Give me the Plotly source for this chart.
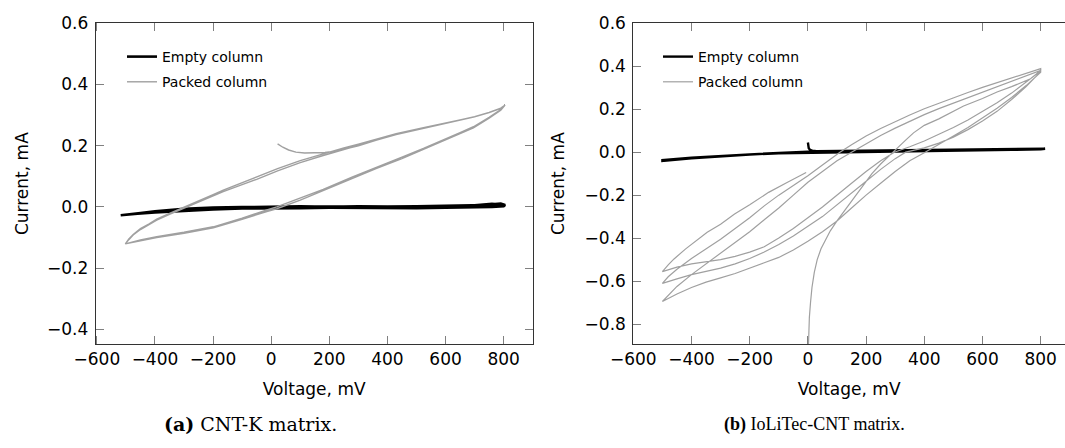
import plotly.graph_objects as go

# ---------------- data (a) CNT-K matrix ----------------
# Packed column: initial segment, then upper (increasing V) and lower (decreasing V) branches
a_start_v = [22, 40, 60, 85, 115, 150, 185, 220, 260]
a_start_i = [0.206, 0.195, 0.186, 0.179, 0.176, 0.176, 0.178, 0.182, 0.19]

a_up1_v = [300, 363, 430, 524, 600, 650, 700, 750, 790, 805]
a_up1_i = [0.2, 0.218, 0.236, 0.257, 0.272, 0.283, 0.294, 0.308, 0.322, 0.333]

a_dn1_v = [805, 790, 750, 696, 650, 600, 524, 450, 363, 280, 179, 100, 19, -15, -100, -199, -300, -394, -450, -502]
a_dn1_i = [0.333, 0.318, 0.293, 0.262, 0.243, 0.222, 0.191, 0.163, 0.131, 0.098, 0.057, 0.028, 0.0, -0.01, -0.037, -0.065, -0.083, -0.097, -0.108, -0.121]

a_up2_v = [-502, -490, -475, -450, -420, -394, -350, -302, -250, -200, -165, -100, -50, 22, 100, 179, 250, 300, 363, 430, 524, 600, 650, 700, 750, 790, 805]
a_up2_i = [-0.121, -0.105, -0.09, -0.071, -0.055, -0.04, -0.021, -0.002, 0.019, 0.04, 0.055, 0.079, 0.097, 0.125, 0.151, 0.174, 0.193, 0.205, 0.222, 0.239, 0.259, 0.273, 0.284, 0.295, 0.309, 0.323, 0.333]

a_dn2_v = [805, 790, 750, 696, 650, 600, 524, 450, 363, 280, 179, 100, 19, -15, -100, -199, -300, -394, -450, -502]
a_dn2_i = [0.333, 0.316, 0.29, 0.258, 0.239, 0.218, 0.186, 0.158, 0.126, 0.093, 0.052, 0.022, -0.006, -0.015, -0.041, -0.068, -0.086, -0.1, -0.111, -0.121]

a_up3_v = [-502, -490, -475, -450, -420, -394, -350, -302, -250, -200, -165, -100, -50, 22, 100, 179, 250, 300, 363, 430, 524, 600, 650, 700, 750, 790, 805]
a_up3_i = [-0.121, -0.107, -0.092, -0.074, -0.058, -0.043, -0.024, -0.005, 0.015, 0.035, 0.05, 0.073, 0.09, 0.118, 0.145, 0.168, 0.188, 0.2, 0.218, 0.236, 0.257, 0.272, 0.283, 0.294, 0.308, 0.322, 0.333]

# Empty column (a)
a_e_fwd_v = [-518, -480, -440, -400, -350, -300, -250, -200, -100, 0, 100, 200, 300, 400, 500, 600, 700, 740, 770, 790, 805]
a_e_fwd_i = [-0.027, -0.023, -0.019, -0.016, -0.012, -0.008, -0.005, -0.003, -0.001, 0.0, 0.001, 0.001, 0.0, 0.001, 0.002, 0.003, 0.004, 0.006, 0.009, 0.011, 0.006]
a_e_rev_v = [800, 760, 700, 600, 500, 400, 300, 200, 100, 0, -100, -200, -300, -400, -460, -518]
a_e_rev_i = [0.002, 0.0, -0.002, -0.003, -0.004, -0.003, -0.004, -0.003, -0.004, -0.004, -0.005, -0.008, -0.012, -0.018, -0.022, -0.027]
a_e_fwd2_v = [-518, -450, -400, -300, -200, -100, 0, 100, 200, 300, 400, 500, 600, 700, 760, 800]
a_e_fwd2_i = [-0.026, -0.02, -0.014, -0.006, -0.002, 0.0, 0.001, 0.002, 0.0, 0.002, 0.001, 0.0, 0.002, 0.005, 0.01, 0.004]

# ---------------- data (b) IoLiTec-CNT matrix ----------------
b_init_v = [0, 2, 5, 9, 14, 22, 32, 45, 60, 77, 100, 130, 160, 191, 220, 250, 280, 306, 335, 363, 400, 450, 535, 600, 650, 700, 765, 800]
b_init_i = [-0.98, -0.86, -0.77, -0.70, -0.63, -0.56, -0.50, -0.45, -0.41, -0.366, -0.32, -0.265, -0.205, -0.148, -0.1, -0.055, -0.015, 0.02, 0.055, 0.09, 0.125, 0.155, 0.215, 0.25, 0.28, 0.305, 0.342, 0.381]

b_l3_v = [800, 750, 700, 650, 600, 550, 500, 450, 403, 350, 300, 250, 200, 150, 100, 50, 0, -50, -100, -150, -200, -250, -300, -350, -400, -450, -500]
b_l3_i = [0.372, 0.31, 0.255, 0.205, 0.16, 0.115, 0.075, 0.035, 0.0, -0.04, -0.09, -0.145, -0.2, -0.26, -0.32, -0.37, -0.415, -0.455, -0.49, -0.515, -0.54, -0.565, -0.585, -0.605, -0.63, -0.66, -0.695]

b_u3_v = [-500, -480, -450, -400, -350, -300, -250, -200, -150, -100, -50, 0, 50, 100, 150, 200, 250, 300, 350, 400, 450, 500, 550, 600, 650, 700, 750, 800]
b_u3_i = [-0.695, -0.665, -0.625, -0.57, -0.52, -0.47, -0.42, -0.37, -0.315, -0.26, -0.2, -0.14, -0.09, -0.04, 0.0, 0.04, 0.078, 0.112, 0.145, 0.175, 0.203, 0.228, 0.253, 0.278, 0.303, 0.328, 0.354, 0.381]

b_l2_v = [800, 750, 700, 650, 600, 550, 500, 450, 400, 336, 300, 250, 200, 150, 100, 50, 0, -50, -100, -150, -200, -250, -300, -350, -400, -450, -500]
b_l2_i = [0.375, 0.305, 0.245, 0.19, 0.145, 0.105, 0.07, 0.042, 0.02, 0.0, -0.03, -0.08, -0.135, -0.19, -0.245, -0.3, -0.345, -0.39, -0.43, -0.465, -0.495, -0.52, -0.54, -0.555, -0.57, -0.59, -0.611]

b_u2_v = [-500, -480, -450, -400, -350, -300, -250, -200, -150, -100, -50, 0, 50, 110, 150, 200, 250, 300, 350, 400, 450, 500, 550, 600, 650, 700, 750, 800]
b_u2_i = [-0.611, -0.58, -0.545, -0.495, -0.45, -0.405, -0.355, -0.305, -0.25, -0.2, -0.155, -0.11, -0.06, 0.0, 0.035, 0.075, 0.11, 0.143, 0.173, 0.202, 0.228, 0.253, 0.278, 0.302, 0.323, 0.346, 0.368, 0.389]

b_l1_v = [800, 750, 700, 650, 600, 550, 500, 450, 400, 350, 297, 250, 200, 150, 100, 50, 0, -50, -100, -150, -200, -250, -300, -350, -400, -450, -500]
b_l1_i = [0.378, 0.325, 0.275, 0.23, 0.19, 0.15, 0.115, 0.082, 0.052, 0.025, 0.0, -0.04, -0.09, -0.145, -0.2, -0.255, -0.305, -0.355, -0.4, -0.44, -0.465, -0.485, -0.5, -0.51, -0.52, -0.535, -0.556]

b_u1_v = [-500, -480, -460, -420, -380, -346, -300, -252, -200, -135, -70, -6]
b_u1_i = [-0.556, -0.525, -0.497, -0.45, -0.41, -0.373, -0.335, -0.288, -0.245, -0.187, -0.14, -0.095]

# Empty column (b)
b_e_v = [0, 1, 3, 7, 15, 30, 100, 200, 300, 400, 500, 600, 700, 800, 815,
         800, 700, 600, 500, 400, 300, 200, 100, 0, -100, -200, -300, -400, -500,
         -500, -400, -300, -200, -100, 0, 100, 200, 400, 600, 800, 815]
b_e_i = [0.045, 0.03, 0.018, 0.011, 0.007, 0.005, 0.006, 0.007, 0.008, 0.009, 0.01, 0.012, 0.013, 0.015, 0.016,
         0.013, 0.011, 0.009, 0.007, 0.006, 0.004, 0.003, 0.002, 0.0, -0.005, -0.011, -0.019, -0.029, -0.041,
         -0.037, -0.026, -0.017, -0.01, -0.004, 0.002, 0.004, 0.005, 0.007, 0.01, 0.014, 0.015]

series_names = ["Empty column", "Packed column"]
caption_a = "<b>(a)</b> CNT-K matrix."
caption_b = "<b>(b)</b> IoLiTec-CNT matrix."
x_ticks = [-600, -400, -200, 0, 200, 400, 600, 800]
y_ticks_a = [-0.4, -0.2, 0.0, 0.2, 0.4, 0.6]
y_ticks_b = [-0.8, -0.6, -0.4, -0.2, 0.0, 0.2, 0.4, 0.6]

GRAY = "#a0a0a0"
W, H = 1065, 448

a_packed_v = a_start_v + a_up1_v + a_dn1_v + a_up2_v + a_dn2_v + a_up3_v
a_packed_i = a_start_i + a_up1_i + a_dn1_i + a_up2_i + a_dn2_i + a_up3_i
a_empty_v = a_e_fwd_v + a_e_rev_v + a_e_fwd2_v
a_empty_i = a_e_fwd_i + a_e_rev_i + a_e_fwd2_i
b_packed_v = b_init_v + b_l3_v + b_u3_v + b_l2_v + b_u2_v + b_l1_v + b_u1_v
b_packed_i = b_init_i + b_l3_i + b_u3_i + b_l2_i + b_u2_i + b_l1_i + b_u1_i

fig = go.Figure()
fig.add_trace(go.Scatter(x=a_empty_v, y=a_empty_i, mode="lines", name=series_names[0],
                         line=dict(color="black", width=2.6), xaxis="x", yaxis="y",
                         legend="legend", legendgroup="e"))
fig.add_trace(go.Scatter(x=a_packed_v, y=a_packed_i, mode="lines", name=series_names[1],
                         line=dict(color=GRAY, width=1.4), xaxis="x", yaxis="y",
                         legend="legend", legendgroup="p"))
fig.add_trace(go.Scatter(x=b_e_v, y=b_e_i, mode="lines", name=series_names[0],
                         line=dict(color="black", width=2.4), xaxis="x2", yaxis="y2",
                         legend="legend2", legendgroup="e2"))
fig.add_trace(go.Scatter(x=b_packed_v, y=b_packed_i, mode="lines", name=series_names[1],
                         line=dict(color=GRAY, width=1.2), xaxis="x2", yaxis="y2",
                         legend="legend2", legendgroup="p2"))

tickfont = dict(family="DejaVu Sans", size=17, color="black")
titlefont = dict(family="DejaVu Sans", size=17, color="black")
common_axis = dict(showgrid=False, zeroline=False, showline=True, linecolor="#333333", linewidth=1,
                   ticks="inside", ticklen=8, tickcolor="#808080", tickwidth=1, tickfont=tickfont,
                   automargin=False)

ydom = [1 - 344 / H, 1 - 23.3 / H]

fig.update_layout(
    width=W, height=H, autosize=False,
    margin=dict(l=0, r=0, t=0, b=0, autoexpand=False),
    paper_bgcolor="white", plot_bgcolor="white",
    xaxis=dict(common_axis, domain=[95.7 / W, 532.7 / W], range=[-604, 900], tickvals=x_ticks,
               mirror="ticks", anchor="y",
               title=dict(text="Voltage, mV", font=titlefont, standoff=14)),
    yaxis=dict(common_axis, domain=ydom, range=[-0.448, 0.6], tickvals=y_ticks_a, tickformat=".1f",
               mirror="ticks", anchor="x", ticklabelstandoff=3,
               title=dict(text="Current, mA", font=titlefont, standoff=14)),
    xaxis2=dict(common_axis, domain=[633.3 / W, 1.0], range=[-600, 883.5], tickvals=x_ticks,
                mirror="ticks", anchor="y2",
                title=dict(text="Voltage, mV", font=titlefont, standoff=14)),
    yaxis2=dict(common_axis, domain=ydom, range=[-0.893, 0.6], tickvals=y_ticks_b, tickformat=".1f",
                mirror=False, anchor="x2", ticklabelstandoff=3,
                title=dict(text="Current, mA", font=titlefont, standoff=15)),
    legend=dict(x=122 / W, y=1 - 41 / H, xanchor="left", yanchor="top", bgcolor="rgba(0,0,0,0)",
                font=dict(family="DejaVu Sans", size=14, color="black"), traceorder="grouped",
                tracegroupgap=4),
    legend2=dict(x=658 / W, y=1 - 41 / H, xanchor="left", yanchor="top", bgcolor="rgba(0,0,0,0)",
                 font=dict(family="DejaVu Sans", size=14, color="black"), traceorder="grouped",
                 tracegroupgap=4),
    annotations=[
        dict(text=caption_a, x=250 / W, y=1 - 424 / H, xref="paper", yref="paper",
             xanchor="center", yanchor="middle", showarrow=False,
             font=dict(family="DejaVu Serif", size=19, color="black")),
        dict(text=caption_b, x=814.5 / W, y=1 - 424 / H, xref="paper", yref="paper",
             xanchor="center", yanchor="middle", showarrow=False,
             font=dict(family="Liberation Serif", size=18, color="black")),
    ],
)

fig.write_html("out.html", config={"displayModeBar": False},
               post_script="document.body.style.margin='0';document.body.style.overflow='hidden';")
